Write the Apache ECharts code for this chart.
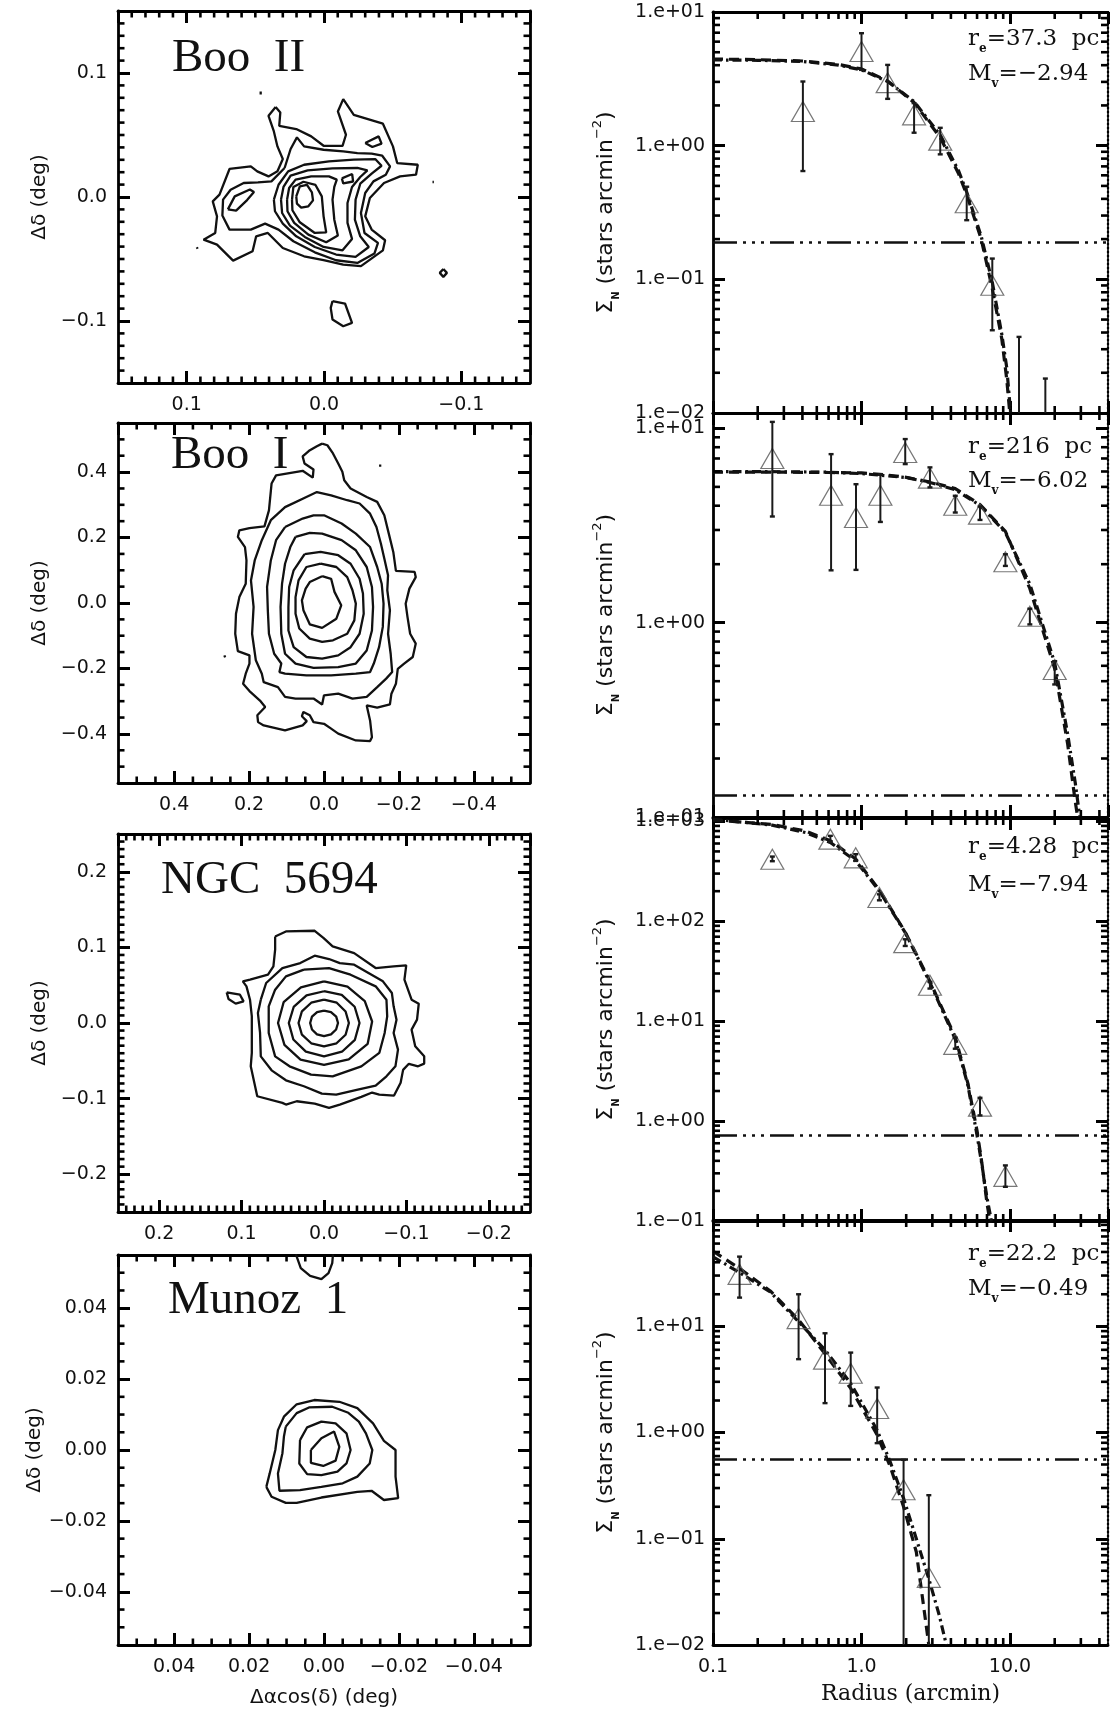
<!DOCTYPE html>
<html>
<head>
<meta charset="utf-8">
<script src="https://cdn.jsdelivr.net/npm/echarts@6/dist/echarts.min.js"></script>
<style>html,body{margin:0;padding:0;background:#fff}#chart{width:1111px;height:1710px}</style>
</head>
<body>
<div id="chart"></div>
<script>
// ================= DATA =================
// ---- Left column: stellar density contour maps (Δα cos δ, Δδ in deg) ----
const mapNames = ['Boo  II', 'Boo  I', 'NGC  5694', 'Munoz  1'];
const mapHalfRange = [0.15, 0.55, 0.25, 0.055];
const mapTickSplit = [3, 5, 5, 5];
const mapMajorStep = [0.1, 0.2, 0.1, 0.02];
const mapMinorSplit = [10, 4, 10, 4];
const mapLabelDecimals = [1, 1, 1, 2];

const booIIContours = [
  [[0.0352,0.0725],[0.0318,0.0682],[0.0326,0.0574],[0.0202,0.0548],[0.0093,0.0489],[0.0003,0.0413],[-0.0135,0.0413],[-0.0160,0.0502],[-0.0101,0.0690],[-0.0140,0.0789],[-0.0217,0.0663],[-0.0429,0.0591],[-0.0502,0.0408],[-0.0533,0.0274],[-0.0683,0.0260],[-0.0670,0.0180],[-0.0554,0.0166],[-0.0437,0.0113],[-0.0334,-0.0008],[-0.0300,-0.0156],[-0.0347,-0.0263],[-0.0445,-0.0349],[-0.0429,-0.0430],[-0.0269,-0.0558],[-0.0140,-0.0545],[0.0003,-0.0510],[0.0145,-0.0478],[0.0300,-0.0411],[0.0409,-0.0290],[0.0494,-0.0317],[0.0520,-0.0438],[0.0662,-0.0513],[0.0779,-0.0384],[0.0877,-0.0344],[0.0792,-0.0290],[0.0779,-0.0156],[0.0810,-0.0035],[0.0761,0.0019],[0.0688,0.0226],[0.0533,0.0247],[0.0486,0.0207],[0.0404,0.0166],[0.0339,0.0207],[0.0300,0.0306],[0.0339,0.0408],[0.0365,0.0529],[0.0404,0.0655],[0.0352,0.0725]],
  [[0.0287,0.0234],[0.0243,0.0387],[0.0197,0.0481],[0.0145,0.0408],[0.0003,0.0381],[-0.0140,0.0368],[-0.0243,0.0354],[-0.0347,0.0349],[-0.0424,0.0333],[-0.0481,0.0247],[-0.0450,0.0180],[-0.0360,0.0126],[-0.0300,0.0032],[-0.0269,-0.0129],[-0.0295,-0.0290],[-0.0393,-0.0370],[-0.0367,-0.0456],[-0.0243,-0.0532],[-0.0088,-0.0510],[0.0067,-0.0446],[0.0223,-0.0357],[0.0331,-0.0263],[0.0429,-0.0215],[0.0533,-0.0263],[0.0688,-0.0263],[0.0740,-0.0150],[0.0735,-0.0021],[0.0680,0.0059],[0.0585,0.0113],[0.0481,0.0118],[0.0383,0.0126],[0.0287,0.0234]],
  [[0.0365,-0.0021],[0.0331,0.0099],[0.0261,0.0207],[0.0145,0.0260],[-0.0036,0.0287],[-0.0217,0.0301],[-0.0373,0.0306],[-0.0419,0.0252],[-0.0347,0.0188],[-0.0264,0.0107],[-0.0230,-0.0021],[-0.0225,-0.0183],[-0.0264,-0.0317],[-0.0326,-0.0403],[-0.0230,-0.0483],[-0.0088,-0.0464],[0.0067,-0.0403],[0.0202,-0.0317],[0.0300,-0.0215],[0.0357,-0.0115],[0.0365,-0.0021]],
  [[0.0313,-0.0021],[0.0295,0.0081],[0.0243,0.0172],[0.0119,0.0215],[-0.0062,0.0231],[-0.0243,0.0234],[-0.0316,0.0215],[-0.0264,0.0161],[-0.0204,0.0081],[-0.0171,-0.0048],[-0.0171,-0.0209],[-0.0204,-0.0338],[-0.0135,-0.0430],[0.0003,-0.0403],[0.0140,-0.0322],[0.0248,-0.0231],[0.0305,-0.0129],[0.0313,-0.0021]],
  [[0.0269,-0.0021],[0.0254,0.0072],[0.0207,0.0140],[0.0093,0.0166],[-0.0036,0.0166],[-0.0093,0.0140],[-0.0075,0.0081],[-0.0062,-0.0021],[-0.0075,-0.0183],[-0.0101,-0.0311],[-0.0016,-0.0365],[0.0114,-0.0303],[0.0217,-0.0209],[0.0266,-0.0115],[0.0269,-0.0021]],
  [[0.0233,-0.0021],[0.0223,0.0081],[0.0150,0.0123],[0.0062,0.0097],[0.0016,0.0005],[0.0003,-0.0156],[-0.0016,-0.0285],[0.0067,-0.0290],[0.0176,-0.0204],[0.0230,-0.0107],[0.0233,-0.0021]],
  [[0.0202,0.0005],[0.0176,0.0086],[0.0124,0.0097],[0.0088,0.0038],[0.0080,-0.0027],[0.0114,-0.0075],[0.0166,-0.0086],[0.0197,-0.0054],[0.0202,0.0005]],
  [[-0.0300,0.0435],[-0.0398,0.0489],[-0.0419,0.0430],[-0.0352,0.0403],[-0.0300,0.0435]],
  [[-0.0130,0.0150],[-0.0205,0.0185],[-0.0212,0.0125],[-0.0140,0.0110],[-0.0130,0.0150]],
  [[0.0700,-0.0100],[0.0650,0.0005],[0.0540,0.0060],[0.0510,0.0040],[0.0560,-0.0025],[0.0640,-0.0110],[0.0700,-0.0100]],
  [[-0.0062,-0.0840],[-0.0153,-0.0859],[-0.0204,-0.1015],[-0.0140,-0.1042],[-0.0062,-0.0988],[-0.0049,-0.0894],[-0.0062,-0.0840]],
  [[-0.0869,-0.0580],[-0.0895,-0.0612],[-0.0869,-0.0644],[-0.0843,-0.0612],[-0.0869,-0.0580]],
  [[0.0461,0.0851],[0.0461,0.0826]],
  [[0.0926,-0.0405],[0.0920,-0.0418]],
  [[-0.0790,0.0121],[-0.0800,0.0121]]
];

const booIContours = [
  [[0.005,0.487],[-0.009,0.482],[-0.024,0.457],[-0.038,0.426],[-0.049,0.401],[-0.054,0.375],[-0.071,0.350],[-0.114,0.324],[-0.142,0.309],[-0.161,0.268],[-0.173,0.212],[-0.185,0.156],[-0.192,0.098],[-0.242,0.095],[-0.245,0.079],[-0.228,0.044],[-0.218,-0.002],[-0.223,-0.043],[-0.230,-0.094],[-0.245,-0.124],[-0.237,-0.165],[-0.214,-0.185],[-0.197,-0.201],[-0.192,-0.247],[-0.180,-0.277],[-0.176,-0.310],[-0.142,-0.320],[-0.114,-0.313],[-0.123,-0.359],[-0.128,-0.410],[-0.123,-0.422],[-0.085,-0.420],[-0.038,-0.399],[-0.019,-0.384],[0.000,-0.369],[0.028,-0.364],[0.038,-0.343],[0.055,-0.333],[0.059,-0.346],[0.046,-0.361],[0.057,-0.374],[0.104,-0.389],[0.161,-0.374],[0.176,-0.364],[0.178,-0.343],[0.157,-0.318],[0.171,-0.298],[0.199,-0.269],[0.216,-0.247],[0.209,-0.216],[0.199,-0.185],[0.199,-0.160],[0.230,-0.147],[0.237,-0.094],[0.235,-0.033],[0.226,0.018],[0.209,0.059],[0.207,0.130],[0.211,0.171],[0.230,0.202],[0.226,0.222],[0.199,0.229],[0.159,0.234],[0.147,0.283],[0.140,0.365],[0.128,0.390],[0.057,0.404],[0.030,0.383],[0.028,0.408],[0.052,0.426],[0.057,0.448],[0.040,0.465],[0.019,0.479],[0.005,0.487]],
  [[0.166,0.192],[0.142,0.253],[0.104,0.293],[0.047,0.324],[0.019,0.339],[-0.019,0.329],[-0.062,0.314],[-0.095,0.304],[-0.123,0.273],[-0.140,0.232],[-0.152,0.181],[-0.161,0.136],[-0.171,0.085],[-0.169,0.039],[-0.176,-0.022],[-0.171,-0.094],[-0.178,-0.155],[-0.182,-0.211],[-0.166,-0.231],[-0.142,-0.257],[-0.114,-0.287],[-0.076,-0.292],[-0.038,-0.277],[0.000,-0.282],[0.005,-0.310],[0.028,-0.292],[0.076,-0.292],[0.104,-0.287],[0.123,-0.257],[0.161,-0.242],[0.166,-0.216],[0.182,-0.175],[0.192,-0.094],[0.188,-0.012],[0.195,0.069],[0.185,0.130],[0.166,0.192]],
  [[0.104,0.232],[0.057,0.258],[0.028,0.268],[0.000,0.268],[-0.047,0.243],[-0.085,0.212],[-0.123,0.171],[-0.142,0.110],[-0.154,0.059],[-0.159,-0.002],[-0.157,-0.073],[-0.147,-0.135],[-0.133,-0.185],[-0.123,-0.211],[-0.085,-0.216],[-0.019,-0.221],[0.047,-0.221],[0.104,-0.216],[0.119,-0.211],[0.114,-0.185],[0.133,-0.155],[0.147,-0.094],[0.150,-0.022],[0.152,0.049],[0.142,0.130],[0.128,0.192],[0.104,0.232]],
  [[0.076,0.202],[0.038,0.214],[0.005,0.212],[-0.047,0.192],[-0.085,0.161],[-0.114,0.110],[-0.128,0.049],[-0.131,-0.012],[-0.128,-0.084],[-0.114,-0.145],[-0.085,-0.185],[-0.038,-0.196],[0.028,-0.198],[0.076,-0.185],[0.104,-0.155],[0.114,-0.094],[0.116,-0.012],[0.112,0.059],[0.104,0.120],[0.090,0.171],[0.076,0.202]],
  [[0.052,0.149],[0.009,0.156],[-0.038,0.146],[-0.071,0.120],[-0.095,0.074],[-0.104,0.029],[-0.106,-0.033],[-0.095,-0.094],[-0.071,-0.135],[-0.038,-0.160],[0.005,-0.170],[0.047,-0.165],[0.081,-0.135],[0.095,-0.084],[0.095,-0.012],[0.093,0.049],[0.081,0.100],[0.052,0.149]],
  [[0.009,0.120],[-0.033,0.110],[-0.062,0.079],[-0.076,0.039],[-0.085,-0.002],[-0.081,-0.053],[-0.062,-0.094],[-0.024,-0.114],[0.005,-0.119],[0.038,-0.109],[0.066,-0.078],[0.076,-0.033],[0.076,0.018],[0.068,0.069],[0.047,0.110],[0.009,0.120]],
  [[0.005,0.082],[-0.019,0.074],[-0.028,0.034],[-0.046,-0.007],[-0.033,-0.048],[0.005,-0.076],[0.038,-0.065],[0.055,-0.022],[0.059,0.008],[0.049,0.044],[0.038,0.064],[0.005,0.082]],
  [[0.266,-0.160],[0.264,-0.166]],
  [[-0.147,0.420],[-0.153,0.420]]
];

const ngc5694Contours = [
  [[0.0593,0.1145],[0.0462,0.1211],[0.0113,0.1220],[0.0004,0.1123],[-0.0105,0.1013],[-0.0366,0.0925],[-0.0627,0.0727],[-0.0845,0.0749],[-0.0998,0.0762],[-0.0976,0.0573],[-0.1063,0.0308],[-0.1150,0.0256],[-0.1129,0.0044],[-0.1063,-0.0088],[-0.1107,-0.0308],[-0.1216,-0.0441],[-0.1216,-0.0537],[-0.1142,-0.0573],[-0.1030,-0.0540],[-0.0960,-0.0620],[-0.0930,-0.0790],[-0.0850,-0.0960],[-0.0671,-0.0947],[-0.0584,-0.0920],[-0.0453,-0.0978],[-0.0192,-0.1079],[-0.0061,-0.1123],[0.0113,-0.1066],[0.0331,-0.1035],[0.0462,-0.1079],[0.0505,-0.1057],[0.0810,-0.0969],[0.0889,-0.0573],[0.0876,-0.0396],[0.0876,-0.0132],[0.0876,0.0088],[0.0898,0.0308],[0.0941,0.0485],[0.0985,0.0551],[0.0898,0.0573],[0.0680,0.0639],[0.0614,0.0749],[0.0593,0.0969],[0.0593,0.1145]],
  [[0.0767,0.0308],[0.0702,0.0529],[0.0505,0.0727],[0.0288,0.0793],[0.0113,0.0890],[-0.0061,0.0846],[-0.0192,0.0793],[-0.0366,0.0771],[-0.0540,0.0661],[-0.0715,0.0551],[-0.0824,0.0396],[-0.0845,0.0220],[-0.0880,0.0044],[-0.0845,-0.0132],[-0.0898,-0.0352],[-0.0867,-0.0573],[-0.0758,-0.0705],[-0.0627,-0.0828],[-0.0410,-0.0881],[-0.0148,-0.0947],[0.0026,-0.0934],[0.0244,-0.0837],[0.0462,-0.0758],[0.0636,-0.0626],[0.0767,-0.0441],[0.0776,-0.0132],[0.0802,0.0132],[0.0767,0.0308]],
  [[0.0244,0.0705],[-0.0061,0.0727],[-0.0322,0.0639],[-0.0627,0.0485],[-0.0758,0.0308],[-0.0767,0.0088],[-0.0736,-0.0132],[-0.0671,-0.0396],[-0.0453,-0.0573],[-0.0105,-0.0705],[0.0157,-0.0683],[0.0418,-0.0573],[0.0593,-0.0441],[0.0671,-0.0132],[0.0671,0.0220],[0.0593,0.0441],[0.0462,0.0617],[0.0244,0.0705]],
  [[0.000,0.0552],[-0.0285,0.0480],[-0.0495,0.0290],[-0.0584,0.0020],[-0.0530,-0.0275],[-0.0300,-0.0480],[0.000,-0.0555],[0.0285,-0.0485],[0.0480,-0.0290],[0.0558,0.000],[0.0490,0.0275],[0.0280,0.0470],[0.000,0.0552]],
  [[0.000,0.0420],[-0.0215,0.0372],[-0.0372,0.0215],[-0.0431,0.000],[-0.0375,-0.0222],[-0.0218,-0.0380],[0.000,-0.0440],[0.0220,-0.0378],[0.0372,-0.0218],[0.0427,0.000],[0.0368,0.0212],[0.0212,0.0366],[0.000,0.0420]],
  [[0.000,0.0308],[-0.0155,0.0268],[-0.0262,0.0152],[-0.0302,0.000],[-0.0262,-0.0155],[-0.0152,-0.0268],[0.000,-0.0310],[0.0155,-0.0268],[0.0268,-0.0155],[0.0309,0.000],[0.0268,0.0155],[0.0155,0.0268],[0.000,0.0308]],
  [[0.000,0.0165],[-0.0085,0.0145],[-0.0148,0.0085],[-0.0170,0.000],[-0.0147,-0.0086],[-0.0085,-0.0150],[0.000,-0.0175],[0.0085,-0.0150],[0.0146,-0.0086],[0.0168,0.000],[0.0146,0.0084],[0.0084,0.0145],[0.000,0.0165]],
  [[0.1181,0.0405],[0.1020,0.0374],[0.0976,0.0286],[0.1072,0.0256],[0.1159,0.0317],[0.1181,0.0405]]
];

const munoz1Contours = [
  [[0.0154,-0.0104],[0.0140,-0.0132],[0.0102,-0.0149],[0.0073,-0.0149],[0.0007,-0.0134],[-0.0089,-0.0118],[-0.0127,-0.0115],[-0.0160,-0.0141],[-0.0198,-0.0136],[-0.0191,-0.0075],[-0.0191,0.0000],[-0.0160,0.0026],[-0.0131,0.0075],[-0.0089,0.0118],[-0.0041,0.0136],[0.0026,0.0141],[0.0073,0.0129],[0.0107,0.0094],[0.0123,0.0056],[0.0130,0.0000],[0.0145,-0.0066],[0.0154,-0.0104]],
  [[0.0102,0.0066],[0.0073,0.0104],[0.0040,0.0120],[-0.0022,0.0122],[-0.0065,0.0105],[-0.0093,0.0080],[-0.0112,0.0047],[-0.0129,0.0000],[-0.0122,-0.0038],[-0.0089,-0.0075],[-0.0050,-0.0094],[0.0007,-0.0104],[0.0064,-0.0113],[0.0119,-0.0115],[0.0123,-0.0066],[0.0111,-0.0009],[0.0107,0.0038],[0.0102,0.0066]],
  [[0.0064,0.0028],[0.0045,0.0064],[0.0007,0.0080],[-0.0031,0.0075],[-0.0060,0.0047],[-0.0071,0.0000],[-0.0060,-0.0038],[-0.0036,-0.0061],[0.0007,-0.0071],[0.0045,-0.0068],[0.0066,-0.0038],[0.0064,0.0028]],
  [[0.0035,0.0000],[0.0007,0.0033],[-0.0027,0.0052],[-0.0041,0.0009],[-0.0031,-0.0030],[0.0002,-0.0045],[0.0035,-0.0036],[0.0035,0.0000]],
  [[0.0075,0.0552],[0.0062,0.0513],[0.0037,0.0491],[0.0007,0.0482],[-0.0012,0.0499],[-0.0022,0.0527],[-0.0024,0.0552]]
];
const mapContours = [booIIContours, booIContours, ngc5694Contours, munoz1Contours];

// ---- Right column: radial surface-density profiles ----
const profMin = [0.01, 0.1, 0.1, 0.01];
const profMax = [10, 12, 1080, 100];
const radiusMin = 0.1, radiusMax = 45.7;
const reLabels = ['37.3', '216', '4.28', '22.2'];
const mvLabels = ['\u22122.94', '\u22126.02', '\u22127.94', '\u22120.49'];
const backgroundLevel = [0.191, 0.129, 0.718, 0.561];

// Boo II
const booIIProfR     = [0.403, 1.0, 1.50, 2.26, 3.39, 5.11, 7.6, 11.5, 17.3];
const booIIProfSigma = [1.80, 5.06, 2.96, 1.70, 1.10, 0.374, 0.0904, null, null];
const booIIProfLo    = [0.646, 3.69, 2.24, 1.25, 0.861, 0.277, 0.0416, 0, 0];
const booIIProfHi    = [3.02, 6.94, 4.02, 2.08, 1.36, 0.493, 0.143, 0.0371, 0.0181];
const booIIFitR      = [0.1, 0.2, 0.4, 0.7, 1.0, 1.5, 2.26, 3.39, 4.5, 5.11, 6.4, 7.6, 8.8, 9.5, 10.1];
const booIIPlummer   = [4.38, 4.35, 4.27, 4.00, 3.69, 3.02, 2.14, 1.20, 0.65, 0.45, 0.21, 0.095, 0.039, 0.022, 0.010];
const booIIExpo      = [4.45, 4.40, 4.30, 4.05, 3.75, 3.05, 2.10, 1.15, 0.62, 0.43, 0.20, 0.085, 0.036, 0.018, 0.0085];
// Boo I
const booIProfR      = [0.251, 0.624, 0.918, 1.34, 1.97, 2.89, 4.28, 6.28, 9.31, 13.6, 20.0];
const booIProfSigma  = [7.0, 4.53, 3.48, 4.53, 7.52, 5.55, 4.02, 3.62, 2.06, 1.08, 0.574];
const booIProfLo     = [3.52, 1.86, 1.87, 3.30, 6.55, 4.97, 3.69, 3.38, 1.96, 0.98, 0.481];
const booIProfHi     = [10.8, 7.37, 5.16, 5.81, 8.81, 6.30, 4.50, 3.96, 2.25, 1.18, 0.634];
const booIFitR       = [0.1, 0.3, 0.6, 1.0, 1.5, 2.0, 2.89, 4.28, 6.28, 9.31, 13.6, 20.0, 24.4, 27.5, 29.5];
const booIPlummer    = [6.0, 5.98, 5.95, 5.85, 5.70, 5.58, 5.27, 4.83, 4.02, 2.91, 1.58, 0.62, 0.27, 0.15, 0.10];
const booIExpo       = [5.95, 5.95, 5.93, 5.90, 5.75, 5.60, 5.30, 4.90, 4.05, 2.95, 1.50, 0.58, 0.24, 0.12, 0.085];
// NGC 5694
const ngcProfR       = [0.251, 0.617, 0.914, 1.32, 1.97, 2.89, 4.28, 6.28, 9.31];
const ngcProfSigma   = [418, 663, 431, 172.7, 61.1, 22.9, 5.86, 1.41, 0.28];
const ngcProfLo      = [399, 623, 402, 162, 56.6, 21.2, 5.30, 1.14, 0.22];
const ngcProfHi      = [444, 716, 469, 186, 66, 24.7, 6.84, 1.71, 0.36];
const ngcFitR        = [0.1, 0.25, 0.42, 0.617, 0.914, 1.32, 1.97, 2.89, 4.28, 5.2, 6.0, 6.5, 7.0, 7.5];
const ngcPlummer     = [1050, 916, 773, 614, 402, 201, 77, 24.3, 6.58, 2.3, 0.72, 0.35, 0.17, 0.10];
const ngcExpo        = [1030, 930, 800, 640, 420, 205, 78, 25, 6.9, 2.4, 0.80, 0.36, 0.15, 0.08];
// Munoz 1
const munozProfR     = [0.151, 0.377, 0.568, 0.846, 1.275, 1.92, 2.84];
const munozProfSigma = [30.8, 11.8, 4.90, 3.61, 1.68, 0.289, 0.0433];
const munozProfLo    = [18.6, 4.90, 1.89, 1.78, 0.794, 0, 0];
const munozProfHi    = [45.2, 20.0, 8.59, 5.65, 2.65, 0.553, 0.257];
const munozFitR      = [0.1, 0.151, 0.243, 0.377, 0.568, 0.846, 1.275, 1.56, 1.92, 2.34, 2.84, 3.34, 3.73];
const munozPlummer   = [45, 32, 21, 11.0, 6.0, 2.9, 1.05, 0.53, 0.24, 0.10, 0.042, 0.019, 0.010];
const munozExpo      = [51, 35, 21.5, 11.5, 5.5, 2.6, 0.95, 0.48, 0.20, 0.075, 0.010, null, null];

const profR = [booIIProfR, booIProfR, ngcProfR, munozProfR];
const profSigma = [booIIProfSigma, booIProfSigma, ngcProfSigma, munozProfSigma];
const profLo = [booIIProfLo, booIProfLo, ngcProfLo, munozProfLo];
const profHi = [booIIProfHi, booIProfHi, ngcProfHi, munozProfHi];
const fitR = [booIIFitR, booIFitR, ngcFitR, munozFitR];
const fitPlummer = [booIIPlummer, booIPlummer, ngcPlummer, munozPlummer];
const fitExpo = [booIIExpo, booIExpo, ngcExpo, munozExpo];
const logMinorMultipliers = [2, 3, 4, 5, 6, 7, 8, 9];

// ================= LAYOUT / STYLE =================
const C = '#000';
const SANS = 'DejaVu Sans';
const SERIF = 'DejaVu Serif';
const NAME_SERIF = 'Liberation Serif';
const leftBoxes  = [[118, 11, 412, 372], [118, 423, 412, 360], [118, 834, 412, 378], [118, 1255, 412, 390]];
const rightBoxes = [[713, 12, 395, 401], [713, 413, 395, 404], [713, 818, 395, 403], [713, 1220, 395, 425]];
const nameBaseline = [[172, 59], [171, 456], [161, 881], [168, 1301]];
const annotY = [[39, 74], [447, 481], [847, 885], [1254, 1289]];

function fmtLin(d) { return v => (v < -1e-9 ? '\u2212' : '') + Math.abs(v).toFixed(d); }
function isDecade(v) { const l = Math.log10(v); return Math.abs(l - Math.round(l)) < 1e-6; }
function fmtLogY(v) {
  if (!isDecade(v)) return '';
  const e = Math.round(Math.log10(v));
  return '1.e' + (e < 0 ? '\u2212' : '+') + String(Math.abs(e)).padStart(2, '0');
}
function fmtLogX(v) { return isDecade(v) ? v.toFixed(1) : ''; }

const option = { animation: false, backgroundColor: '#fff', grid: [], xAxis: [], yAxis: [], series: [], graphic: [] };

const tickStyle = { show: true, inside: true, length: 12, lineStyle: { color: C, width: 3 } };
const lblStyle = { fontFamily: SANS, fontSize: 19, color: '#111' };
const TW = 2.6;
const minorSpecs = [];

// ---- left panels ----
for (let i = 0; i < 4; i++) {
  const b = leftBoxes[i];
  option.grid.push({ left: b[0], top: b[1], width: b[2], height: b[3], containLabel: false });
  const h = mapHalfRange[i];
  const mk = (isX, pos, showLabel) => {
    const ax = {
      type: 'value', gridIndex: i, min: -h, max: h, splitNumber: mapTickSplit[i], position: pos,
      axisLine: { show: true, onZero: false, lineStyle: { color: C, width: 2.8 } },
      axisTick: tickStyle,
      splitLine: { show: false },
      axisLabel: Object.assign({ show: showLabel, margin: isX ? 13 : 11, showMinLabel: false, showMaxLabel: false,
        formatter: fmtLin(mapLabelDecimals[i]) }, lblStyle)
    };
    if (isX) ax.inverse = true;
    return ax;
  };
  const xb = mk(true, 'bottom', true);
  if (i === 3) {
    xb.name = '\u0394\u03b1cos(\u03b4) (deg)'; xb.nameLocation = 'middle'; xb.nameGap = 43;
    xb.nameTextStyle = { fontFamily: SANS, fontSize: 20, color: '#111' };
  }
  option.xAxis.push(xb, mk(true, 'top', false));
  const yl = mk(false, 'left', true);
  yl.name = '\u0394\u03b4 (deg)'; yl.nameLocation = 'middle'; yl.nameGap = 68; yl.nameRotate = 90;
  yl.nameTextStyle = { fontFamily: SANS, fontSize: 20, color: '#111' };
  option.yAxis.push(yl, mk(false, 'right', false));

  const step = mapMajorStep[i] / mapMinorSplit[i];
  const kMax = Math.floor(h / step + 1e-9);
  const vals = [];
  for (let k = -kMax; k <= kMax; k++) {
    if (k % mapMinorSplit[i] === 0) continue;
    vals.push(+(k * step).toFixed(6));
  }
  minorSpecs.push({ ai: 2 * i, box: b, xVals: vals, yVals: vals, L: 6.5 });

  mapContours[i].forEach(path => {
    option.series.push({ type: 'line', xAxisIndex: 2 * i, yAxisIndex: 2 * i, data: path, symbol: 'none',
      showSymbol: false, silent: true, lineStyle: { color: '#111', width: 2.3 }, z: 3 });
  });
  option.graphic.push({ type: 'text', x: nameBaseline[i][0], y: nameBaseline[i][1], silent: true,
    style: { text: mapNames[i], font: '47px "' + NAME_SERIF + '"', fill: '#111', align: 'left', verticalAlign: 'middle' } });
}

// ---- right panels ----
function errRender(params, api) {
  const cs = params.coordSys;
  const r = api.value(0), lo = api.value(1), hi = api.value(2);
  const top = api.coord([r, hi]);
  const x = top[0];
  let yHi = top[1], yLo = lo > 0 ? api.coord([r, lo])[1] : cs.y + cs.height + 10;
  const capHi = yHi >= cs.y, capLo = yLo <= cs.y + cs.height;
  yHi = Math.max(yHi, cs.y); yLo = Math.min(yLo, cs.y + cs.height);
  const st = { stroke: '#1a1a1a', lineWidth: 2 };
  const ch = [{ type: 'line', shape: { x1: x, y1: yHi, x2: x, y2: yLo }, style: st }];
  if (capHi) ch.push({ type: 'line', shape: { x1: x - 2.5, y1: yHi, x2: x + 2.5, y2: yHi }, style: { stroke: '#1a1a1a', lineWidth: 2.4 } });
  if (capLo) ch.push({ type: 'line', shape: { x1: x - 2.5, y1: yLo, x2: x + 2.5, y2: yLo }, style: { stroke: '#1a1a1a', lineWidth: 2.4 } });
  return { type: 'group', children: ch };
}

const sigmaName = '{a|\u03a3}{n|N}{a| (stars arcmin}{p|\u22122}{a|)}';
for (let j = 0; j < 4; j++) {
  const gi = 4 + j;
  const b = rightBoxes[j];
  option.grid.push({ left: b[0], top: b[1], width: b[2], height: b[3], containLabel: false });
  const mkX = (pos, showLabel) => ({
    type: 'log', logBase: 10, gridIndex: gi, min: radiusMin, max: radiusMax, position: pos,
    axisLine: { show: true, onZero: false, lineStyle: { color: C, width: 2.8 } },
    axisTick: tickStyle, splitLine: { show: false },
    axisLabel: Object.assign({ show: showLabel, margin: 13, formatter: fmtLogX, showMinLabel: true, showMaxLabel: false }, lblStyle)
  });
  const mkY = (pos, showLabel) => ({
    type: 'log', logBase: 10, gridIndex: gi, min: profMin[j], max: profMax[j], position: pos,
    axisLine: { show: true, onZero: false, lineStyle: { color: C, width: pos === 'right' ? 2.2 : 2.8, type: pos === 'right' ? [2, 2] : 'solid' } },
    axisTick: tickStyle, splitLine: { show: false },
    axisLabel: Object.assign({ show: showLabel, margin: 8, formatter: fmtLogY, showMinLabel: true, showMaxLabel: j !== 3 }, lblStyle)
  });
  const xb = mkX('bottom', j === 3);
  if (j === 3) {
    xb.name = 'Radius (arcmin)'; xb.nameLocation = 'middle'; xb.nameGap = 38;
    xb.nameTextStyle = { fontFamily: SERIF, fontSize: 22, color: '#111' };
  }
  option.xAxis.push(xb, mkX('top', false));
  const yl = mkY('left', true);
  yl.name = sigmaName; yl.nameLocation = 'middle'; yl.nameGap = 92; yl.nameRotate = 90;
  yl.nameTextStyle = { fontFamily: SANS, fontSize: 22, color: '#111', rich: {
    a: { fontFamily: SANS, fontSize: 22, lineHeight: 30, color: '#111' },
    n: { fontFamily: SANS, fontSize: 10, fontWeight: 'bold', verticalAlign: 'bottom', color: '#111' },
    p: { fontFamily: SANS, fontSize: 13, verticalAlign: 'top', color: '#111' } } };
  option.yAxis.push(yl, mkY('right', false));
  const xi = 2 * gi, yi = 2 * gi;

  const xVals = [], yVals = [];
  for (let e = -3; e <= 3; e++) {
    logMinorMultipliers.forEach(m => {
      const v = m * Math.pow(10, e);
      if (v > radiusMin && v < radiusMax) xVals.push(v);
      if (v > profMin[j] && v < profMax[j]) yVals.push(v);
    });
  }
  minorSpecs.push({ ai: xi, box: b, xVals: xVals, yVals: yVals, L: 7 });

  const pl = fitR[j].map((r, k) => [r, fitPlummer[j][k]]);
  const ex = fitR[j].map((r, k) => [r, fitExpo[j][k]]);
  option.series.push({ type: 'line', xAxisIndex: xi, yAxisIndex: yi, data: ex, symbol: 'none', showSymbol: false, silent: true,
    lineStyle: { color: '#111', width: 3.2, type: [10, 6], cap: 'butt' }, z: 4 });
  option.series.push({ type: 'line', xAxisIndex: xi, yAxisIndex: yi, data: pl, symbol: 'none', showSymbol: false, silent: true,
    lineStyle: { color: '#111', width: 3.2, type: [9, 4, 2.5, 4], cap: 'butt' }, z: 4,
    markLine: { silent: true, symbol: 'none', label: { show: false }, animation: false,
      lineStyle: { color: '#111', width: 2.6, type: [24, 6, 3, 6, 3, 6, 3, 6], cap: 'butt' },
      data: [{ yAxis: backgroundLevel[j] }] } });

  const pts = [];
  profR[j].forEach((r, k) => { if (profSigma[j][k] != null) pts.push([r, profSigma[j][k]]); });
  option.series.push({ type: 'scatter', xAxisIndex: xi, yAxisIndex: yi, data: pts, symbol: 'triangle', symbolSize: [23, 20],
    silent: true, itemStyle: { color: 'rgba(0,0,0,0)', borderColor: '#555', borderWidth: 1.2 }, z: 6 });
  const eb = profR[j].map((r, k) => [r, profLo[j][k], profHi[j][k]]);
  option.series.push({ type: 'custom', xAxisIndex: xi, yAxisIndex: yi, silent: true, z: 7,
    encode: { x: 0, y: 2 }, data: eb, renderItem: errRender });

  const annRich = { m: { fontFamily: SERIF, fontSize: 23, lineHeight: 32, fill: '#111', color: '#111' },
                    s: { fontFamily: SERIF, fontSize: 12, fontWeight: 'bold', verticalAlign: 'bottom', fill: '#111', color: '#111' } };
  option.graphic.push({ type: 'text', x: 968, y: annotY[j][0], silent: true, style: {
    text: '{m|r}{s|e}{m|=' + reLabels[j] + '  pc}', align: 'left', verticalAlign: 'middle', rich: annRich } });
  option.graphic.push({ type: 'text', x: 968, y: annotY[j][1], silent: true, style: {
    text: '{m|M}{s|v}{m|=' + mvLabels[j] + '}', align: 'left', verticalAlign: 'middle', rich: annRich } });
}

const chart = echarts.init(document.getElementById('chart'), null, { renderer: 'canvas' });
chart.setOption(option);

// minor ticks: positions converted through each axis' own scale
const tickEls = [];
minorSpecs.forEach(s => {
  const [gx, gy, gw, gh] = s.box;
  s.xVals.forEach(v => {
    const px = chart.convertToPixel({ xAxisIndex: s.ai }, v);
    if (!(px > gx + 1 && px < gx + gw - 1)) return;
    tickEls.push({ type: 'line', silent: true, z: 100, shape: { x1: px, y1: gy + gh, x2: px, y2: gy + gh - s.L }, style: { stroke: C, lineWidth: TW } });
    tickEls.push({ type: 'line', silent: true, z: 100, shape: { x1: px, y1: gy, x2: px, y2: gy + s.L }, style: { stroke: C, lineWidth: TW } });
  });
  s.yVals.forEach(v => {
    const py = chart.convertToPixel({ yAxisIndex: s.ai }, v);
    if (!(py > gy + 1 && py < gy + gh - 1)) return;
    tickEls.push({ type: 'line', silent: true, z: 100, shape: { x1: gx, y1: py, x2: gx + s.L, y2: py }, style: { stroke: C, lineWidth: TW } });
    tickEls.push({ type: 'line', silent: true, z: 100, shape: { x1: gx + gw, y1: py, x2: gx + gw - s.L, y2: py }, style: { stroke: C, lineWidth: TW } });
  });
});
chart.setOption({ graphic: option.graphic.concat(tickEls) });
</script>
</body>
</html>
